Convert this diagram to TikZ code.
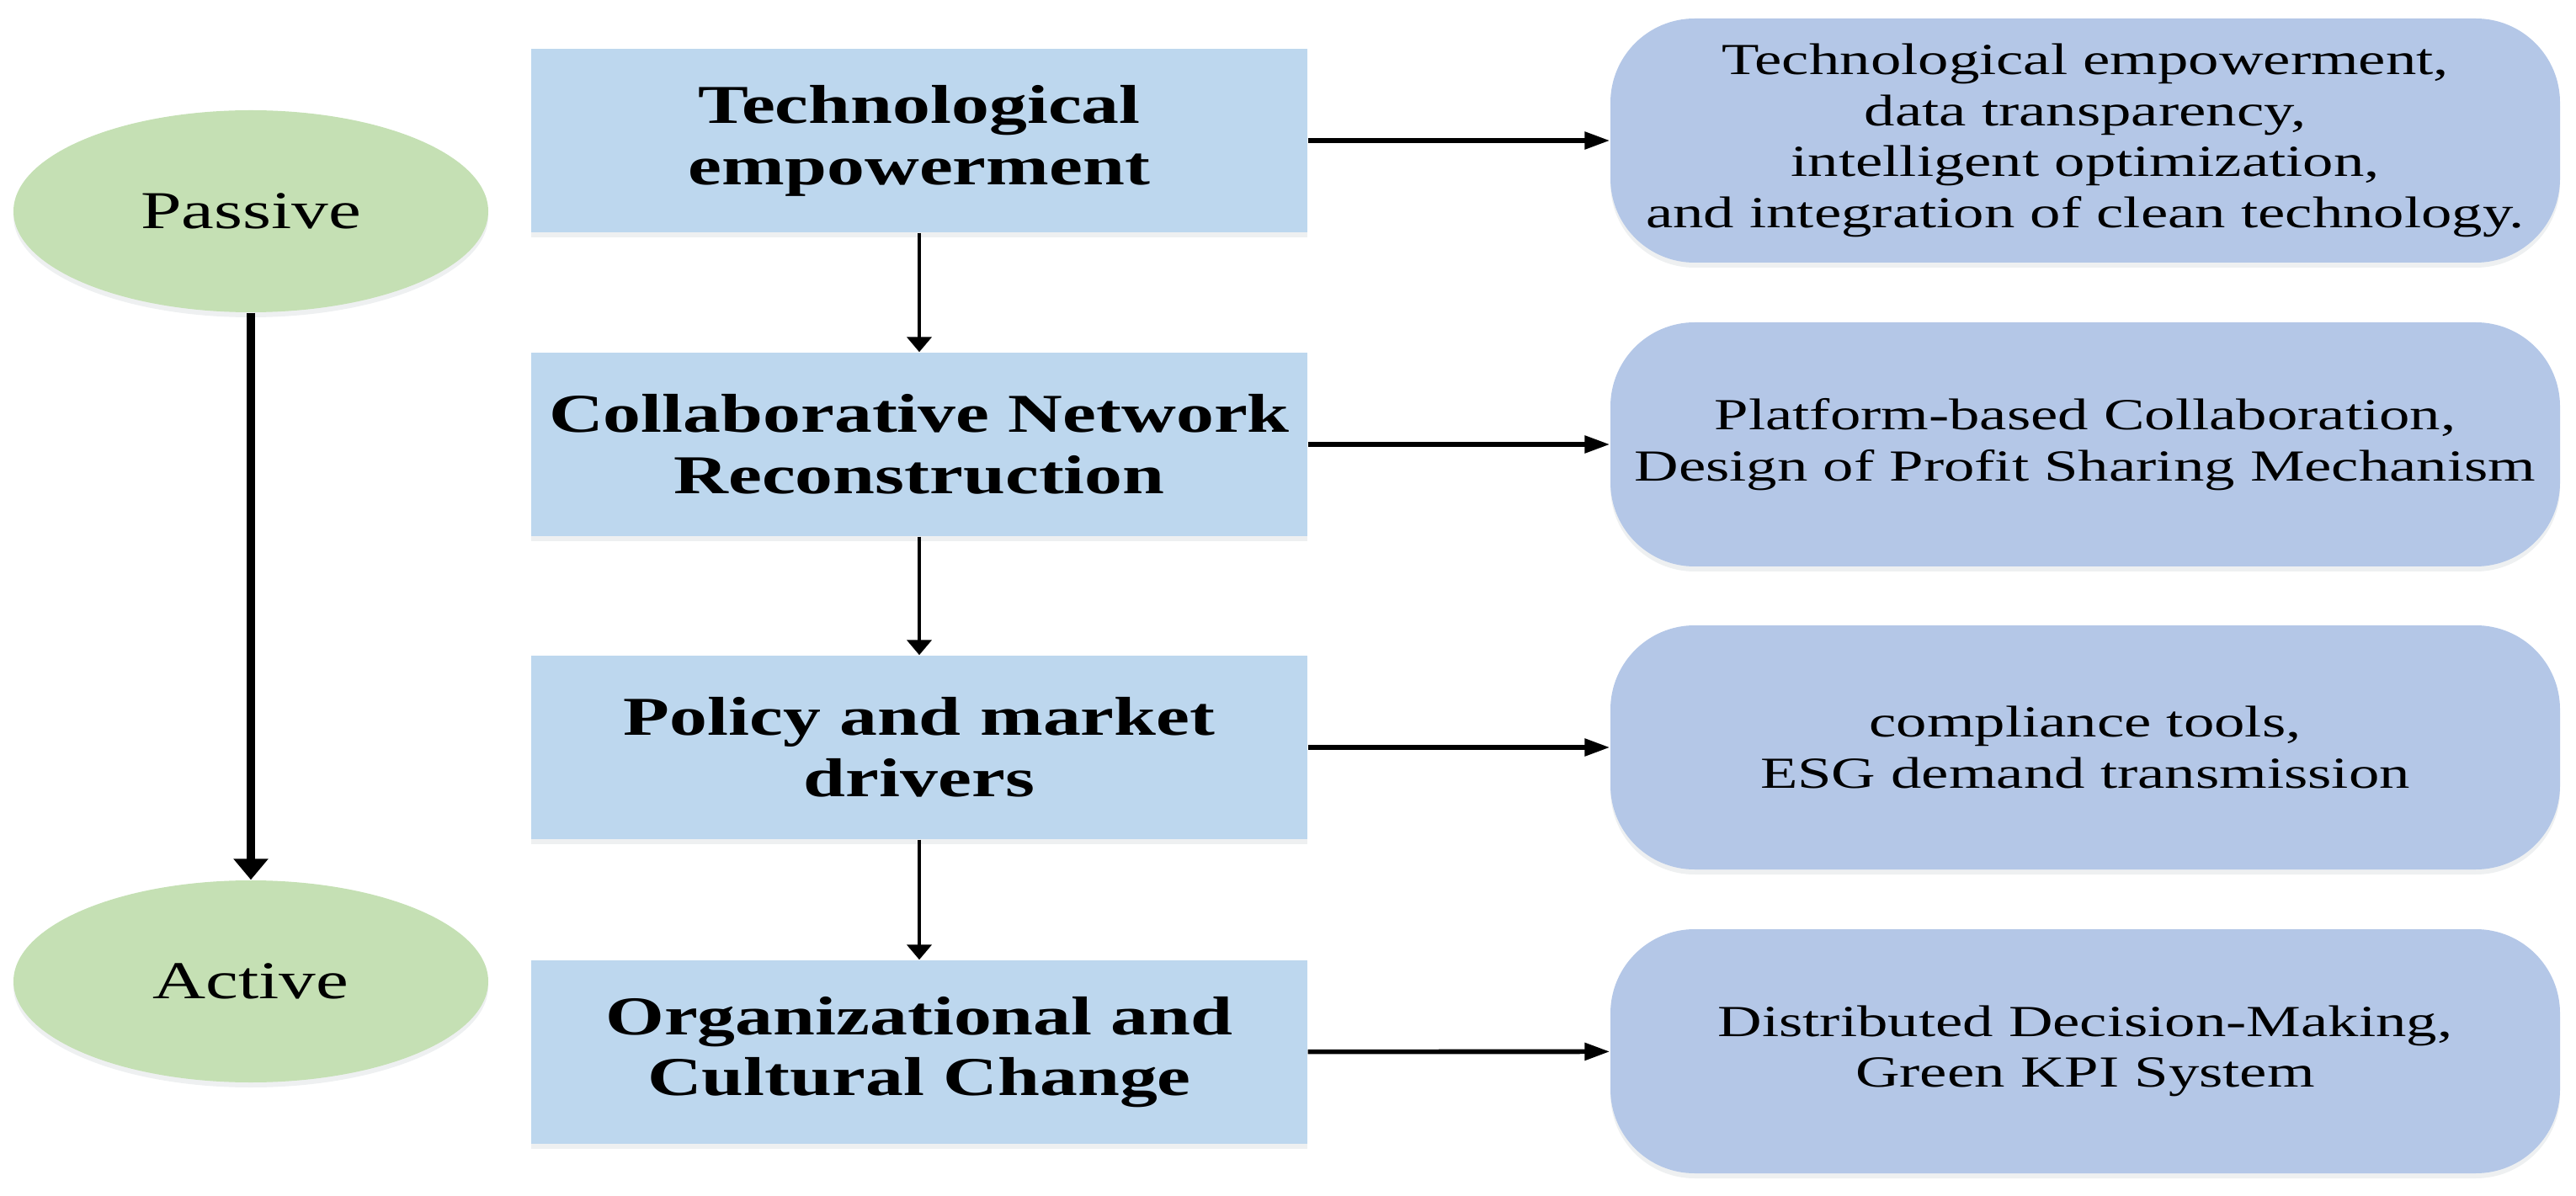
\documentclass[tikz,border=0pt]{standalone}
\usepackage{fontspec}
\setmainfont{Liberation Serif}[FakeStretch=1.38]
\usetikzlibrary{arrows.meta,shapes.geometric,shadows}

\definecolor{phasegreen}{HTML}{C5E0B4}
\definecolor{stageblue}{HTML}{BDD7EE}
\definecolor{notesblue}{HTML}{B4C7E7}

\tikzset{
    softshadow/.style={drop shadow={shadow xshift=0pt,shadow yshift=-0.6mm,opacity=0.12,fill=stageblue!60!black}},
    downarrow/.style={-{Triangle[width=0.29cm,length=0.18cm]},line width=1.3pt},
    sidearrow/.style={-{Triangle[width=0.2cm,length=0.3cm]},line width=1.6pt}
}

\begin{document}
\begin{tikzpicture}
    \useasboundingbox (0,0) rectangle (30.6,-14.21);

    \begin{scope}[every node/.style={ellipse,fill=phasegreen,softshadow,inner sep=0pt,minimum width=5.64cm,minimum height=2.4cm,font=\fontsize{18}{21}\selectfont}]
        \node (P) at (2.98,-2.51) {Passive};
        \node (A) at (2.98,-11.66) {Active};
    \end{scope}

    \begin{scope}[every node/.style={rectangle,fill=stageblue,softshadow,align=center,minimum width=9.22cm,minimum height=2.18cm,font=\fontsize{18.5}{20.7}\selectfont\bfseries}]
        \node (T1) at (10.92,-1.67) {Technological\\empowerment};
        \node (T2) at (10.92,-5.28) {Collaborative Network\\Reconstruction};
        \node (T3) at (10.92,-8.88) {Policy and market\\drivers};
        \node (T4) at (10.92,-12.50) {Organizational and\\Cultural Change};
    \end{scope}

    \begin{scope}[every node/.style={rectangle,rounded corners=1cm,fill=notesblue,softshadow,align=center,minimum width=11.28cm,minimum height=2.9cm,font=\fontsize{15}{17.2}\selectfont}]
        \node (R1) at (24.77,-1.67) {Technological empowerment,\\data transparency,\\intelligent optimization,\\and integration of clean technology.};
        \node (R2) at (24.77,-5.28) {Platform-based Collaboration,\\Design of Profit Sharing Mechanism};
        \node (R3) at (24.77,-8.88) {compliance tools,\\ESG demand transmission};
        \node (R4) at (24.77,-12.49) {Distributed Decision-Making,\\Green KPI System};
    \end{scope}

    \begin{scope}
        \path [-{Triangle[width=0.4cm,length=0.25cm]},line width=2.9pt] (P) edge (A);
        \path [downarrow] (T1) edge (T2);
        \path [downarrow] (T2) edge (T3);
        \path [downarrow] (T3) edge (T4);
        \path [sidearrow] (T1) edge (R1);
        \path [sidearrow] (T2) edge (R2);
        \path [sidearrow] (T3) edge (R3);
        \path [sidearrow] (T4) edge (R4);
    \end{scope}
\end{tikzpicture}
\end{document}
